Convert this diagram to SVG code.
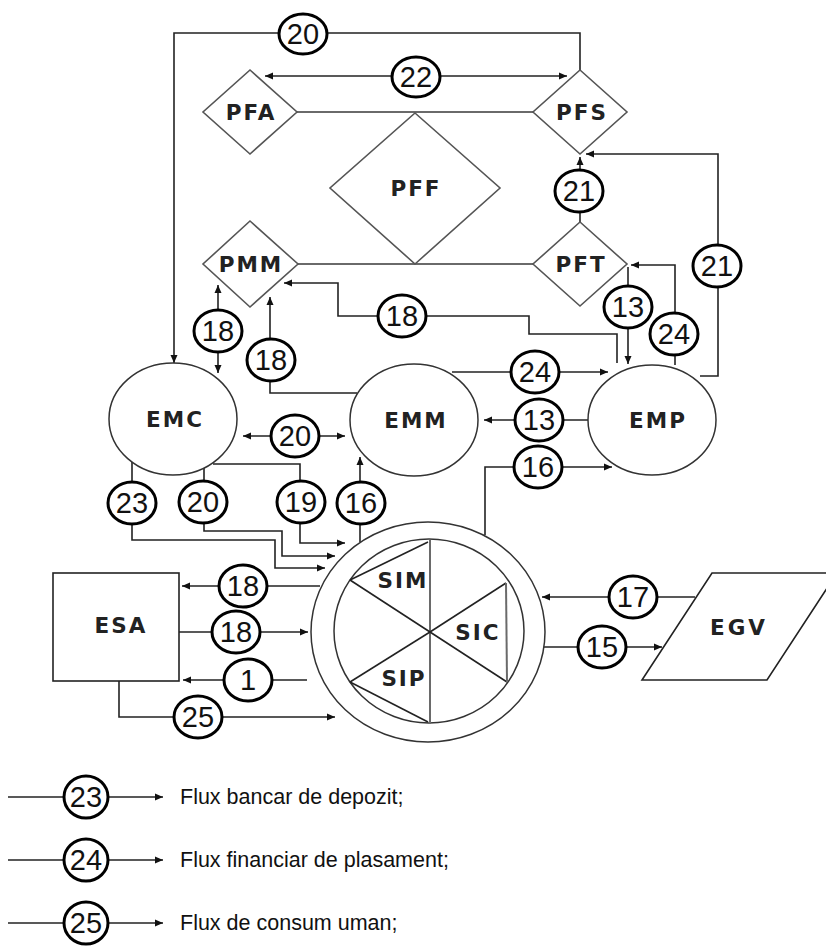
<svg xmlns="http://www.w3.org/2000/svg" width="826" height="947" viewBox="0 0 826 947">
<style>
.ln{fill:none;stroke:#222;stroke-width:1.6}
.gl{fill:none;stroke:#6a6a6a;stroke-width:2}
.dm{fill:#fff;stroke:#555;stroke-width:1.6}
.el{fill:#fff;stroke:#333;stroke-width:1.5}
.nc{fill:#fff;stroke:#000;stroke-width:3}
.nt{font-family:"Liberation Sans",Arial,sans-serif;font-size:29px;text-anchor:middle;fill:#111}
.lb{font-family:"DejaVu Sans",Verdana,sans-serif;font-weight:bold;font-size:21.5px;text-anchor:middle;fill:#222;letter-spacing:2px}
.lg{font-family:"Liberation Sans",Arial,sans-serif;font-size:21.5px;fill:#111}
.a{marker-end:url(#ah)}
.b{marker-start:url(#as);marker-end:url(#ah)}
</style>
<defs>
<marker id="ah" markerUnits="userSpaceOnUse" markerWidth="9" markerHeight="8" refX="8" refY="4" orient="auto"><path d="M0,0.5 L8,4 L0,7.5 z" fill="#111"/></marker>
<marker id="as" markerUnits="userSpaceOnUse" markerWidth="9" markerHeight="8" refX="8" refY="4" orient="auto-start-reverse"><path d="M0,0.5 L8,4 L0,7.5 z" fill="#111"/></marker>
</defs>
<rect width="826" height="947" fill="#fff"/>

<g id="connectors">
<line class="gl" x1="297" y1="112" x2="533" y2="112"/>
<line class="gl" x1="298" y1="264" x2="533" y2="264"/>
<path class="ln a" d="M580,70 V33 H174 V363"/>
<path class="ln b" d="M265,76 H567"/>
<path class="ln a" d="M580,222 V157"/>
<path class="ln a" d="M700,376 H718 V154 H586"/>
<path class="ln a" d="M675,365 V265 H631"/>
<path class="ln a" d="M628,267 V364"/>
<path class="ln a" d="M617,363 V334 H529 V316 H338 V283 H284"/>
<path class="ln b" d="M218,285 V373"/>
<path class="ln a" d="M357,393 H270 V297"/>
<path class="ln a" d="M452,372 H608"/>
<path class="ln a" d="M588,420 H484"/>
<path class="ln b" d="M243,436 H345"/>
<path class="ln a" d="M485,535 V467 H612"/>
<path class="ln a" d="M360,542 V457"/>
<path class="ln a" d="M213,464 H300 V543 H345"/>
<path class="ln a" d="M204,468 V531 H282 V556 H335"/>
<path class="ln a" d="M132,462 V540 H275 V568 H325"/>
<path class="ln a" d="M320,586 H182"/>
<path class="ln a" d="M179,632 H308"/>
<path class="ln a" d="M307,680 H183"/>
<path class="ln a" d="M119,681 V717 H335"/>
<path class="ln a" d="M695,597 H542"/>
<path class="ln a" d="M544,647 H662"/>
</g>

<g id="PFA"><polygon class="dm" points="250,70 297,112 250,154 203,112"/><text class="lb" x="251" y="120">PFA</text></g>
<g id="PFS"><polygon class="dm" points="580,70 627,112 580,154 533,112"/><text class="lb" x="582" y="120">PFS</text></g>
<g id="PFF"><polygon class="dm" points="415,113 500,188 415,264 330,188"/><text class="lb" x="416" y="196">PFF</text></g>
<g id="PMM"><polygon class="dm" points="250,221 298,264 250,307 203,264"/><text class="lb" x="251" y="272">PMM</text></g>
<g id="PFT"><polygon class="dm" points="580,222 627,264 580,306 533,264"/><text class="lb" x="581" y="272">PFT</text></g>

<g id="EMC"><ellipse class="el" cx="173" cy="419" rx="64" ry="56"/><text class="lb" x="175" y="427">EMC</text></g>
<g id="EMM"><ellipse class="el" cx="414" cy="420" rx="64" ry="56"/><text class="lb" x="416" y="428">EMM</text></g>
<g id="EMP"><ellipse class="el" cx="652" cy="420" rx="64" ry="55"/><text class="lb" x="658" y="428">EMP</text></g>

<g id="ESA"><rect x="53" y="573" width="126" height="108" fill="#fff" stroke="#222" stroke-width="1.6"/><text class="lb" x="121" y="633">ESA</text></g>
<g id="EGV"><polygon points="712,573 837,573 767,680 642,680" fill="#fff" stroke="#222" stroke-width="1.6"/><text class="lb" x="739" y="635" style="letter-spacing:3px">EGV</text></g>

<g id="SI">
<ellipse class="el" cx="428" cy="632" rx="117" ry="110"/>
<ellipse class="el" cx="429" cy="631" rx="95" ry="92"/>
<line class="gl" x1="430" y1="540" x2="430" y2="724"/>
<line class="ln" x1="430" y1="632" x2="350" y2="580"/>
<line class="ln" x1="430" y1="632" x2="350" y2="682"/>
<line class="ln" x1="430" y1="632" x2="506" y2="583"/>
<line class="ln" x1="430" y1="632" x2="507" y2="682"/>
<line class="gl" x1="506" y1="583" x2="507" y2="682"/>
<line class="ln" x1="350" y1="580" x2="428" y2="542"/>
<line class="ln" x1="350" y1="682" x2="428" y2="722"/>
<text class="lb" x="403" y="588">SIM</text>
<text class="lb" x="478" y="640">SIC</text>
<text class="lb" x="404" y="686">SIP</text>
</g>

<g id="labels">
<g><ellipse class="nc" cx="303" cy="34" rx="24" ry="20"/><text class="nt" x="303" y="44">20</text></g>
<g><ellipse class="nc" cx="416" cy="77" rx="24" ry="20"/><text class="nt" x="416" y="87">22</text></g>
<g><ellipse class="nc" cx="579" cy="191" rx="24" ry="21"/><text class="nt" x="579" y="201">21</text></g>
<g><ellipse class="nc" cx="717" cy="266" rx="24" ry="21"/><text class="nt" x="717" y="276">21</text></g>
<g><ellipse class="nc" cx="674" cy="334" rx="24" ry="21"/><text class="nt" x="674" y="344">24</text></g>
<g><ellipse class="nc" cx="628" cy="307" rx="24" ry="21"/><text class="nt" x="628" y="317">13</text></g>
<g><ellipse class="nc" cx="402" cy="316" rx="24" ry="21"/><text class="nt" x="402" y="326">18</text></g>
<g><ellipse class="nc" cx="218" cy="331" rx="24" ry="21"/><text class="nt" x="218" y="341">18</text></g>
<g><ellipse class="nc" cx="271" cy="360" rx="24" ry="21"/><text class="nt" x="271" y="370">18</text></g>
<g><ellipse class="nc" cx="535" cy="372" rx="24" ry="21"/><text class="nt" x="535" y="382">24</text></g>
<g><ellipse class="nc" cx="539" cy="420" rx="24" ry="21"/><text class="nt" x="539" y="430">13</text></g>
<g><ellipse class="nc" cx="295" cy="436" rx="24" ry="21"/><text class="nt" x="295" y="446">20</text></g>
<g><ellipse class="nc" cx="538" cy="467" rx="24" ry="21"/><text class="nt" x="538" y="477">16</text></g>
<g><ellipse class="nc" cx="361" cy="503" rx="24" ry="21"/><text class="nt" x="361" y="513">16</text></g>
<g><ellipse class="nc" cx="301" cy="502" rx="24" ry="21"/><text class="nt" x="301" y="512">19</text></g>
<g><ellipse class="nc" cx="203" cy="502" rx="24" ry="21"/><text class="nt" x="203" y="512">20</text></g>
<g><ellipse class="nc" cx="132" cy="503" rx="24" ry="21"/><text class="nt" x="132" y="513">23</text></g>
<g><ellipse class="nc" cx="243" cy="586" rx="24" ry="21"/><text class="nt" x="243" y="596">18</text></g>
<g><ellipse class="nc" cx="236" cy="632" rx="24" ry="21"/><text class="nt" x="236" y="642">18</text></g>
<g><ellipse class="nc" cx="248" cy="680" rx="24" ry="21"/><text class="nt" x="248" y="690">1</text></g>
<g><ellipse class="nc" cx="198" cy="717" rx="24" ry="21"/><text class="nt" x="198" y="727">25</text></g>
<g><ellipse class="nc" cx="633" cy="597" rx="24" ry="21"/><text class="nt" x="633" y="607">17</text></g>
<g><ellipse class="nc" cx="602" cy="647" rx="24" ry="21"/><text class="nt" x="602" y="657">15</text></g>
</g>

<g id="legend">
<path class="ln a" d="M8,797 H163"/>
<ellipse class="nc" cx="86" cy="797" rx="22" ry="21"/><text class="nt" x="86" y="807">23</text>
<text class="lg" x="180" y="804">Flux bancar de depozit;</text>
<path class="ln a" d="M8,860 H163"/>
<ellipse class="nc" cx="86" cy="860" rx="22" ry="21"/><text class="nt" x="86" y="870">24</text>
<text class="lg" x="180" y="867">Flux financiar de plasament;</text>
<path class="ln a" d="M8,923 H163"/>
<ellipse class="nc" cx="86" cy="923" rx="22" ry="21"/><text class="nt" x="86" y="933">25</text>
<text class="lg" x="180" y="930">Flux de consum uman;</text>
</g>
</svg>
